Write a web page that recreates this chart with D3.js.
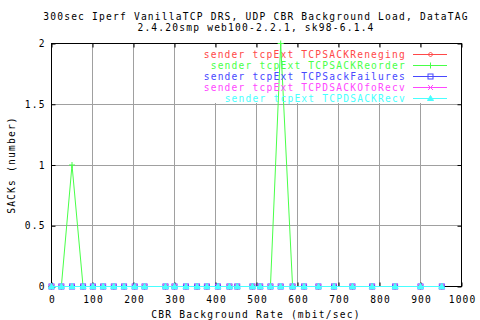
<!DOCTYPE html>
<html>
<head>
<meta charset="utf-8">
<script src="https://cdn.jsdelivr.net/npm/d3@7"></script>
<style>
    body { margin: 0; background: #fff; }
    svg text { font-family: "DejaVu Sans Mono", monospace; font-size: 9.6px; letter-spacing: 1.2px; }
</style>
</head>
<body>
<div id="chart"></div>
<script>
"use strict";

// CBR background rates (mbit/sec) at which the runs were taken
const rates = [0, 24, 50, 77, 101, 126, 152, 177, 203, 227, 278, 300, 328, 355, 379,
    406, 434, 453, 490, 509, 534, 559, 588, 616, 651, 689, 734, 782, 838, 900, 952];

const seriesNames = [
    "sender tcpExt TCPSACKReneging",
    "sender tcpExt TCPSACKReorder",
    "sender tcpExt TCPSackFailures",
    "sender tcpExt TCPDSACKOfoRecv",
    "sender tcpExt TCPDSACKRecv"
];
const seriesColors = ["#ff4848", "#48ff48", "#4848ff", "#ff48ff", "#48ffff"];
const seriesMarkers = ["diamond", "plus", "square", "cross", "triangle"];

const zeros = rates.map(() => 0);
const reneging = zeros.slice();
const reorder = [0, 0, 1, 0, 0, 0, 0, 0, 0, 0, 0, 0, 0, 0, 0,
    0, 0, 0, 0, 0, 0, 2, 0, 0, 0, 0, 0, 0, 0, 0, 0];
const sackFailures = zeros.slice();
const dsackOfo = zeros.slice();
const dsackRecv = zeros.slice();
const seriesValues = [reneging, reorder, sackFailures, dsackOfo, dsackRecv];

const xTicks = [0, 100, 200, 300, 400, 500, 600, 700, 800, 900, 1000];
const yTicks = [0, 0.5, 1, 1.5, 2];

const titleLines = ["300sec Iperf VanillaTCP DRS, UDP CBR Background Load, DataTAG",
    "2.4.20smp web100-2.2.1, sk98-6.1.4"];
const xTitle = "CBR Background Rate (mbit/sec)";
const yTitle = "SACKs (number)";

const W = 480, H = 320;
const plotL = 51, plotR = 461, plotT = 43, plotB = 286;

const svg = d3.select("#chart").append("svg")
    .attr("width", W).attr("height", H);

const x = d3.scaleLinear().domain([0, 1000]).range([plotL, plotR]);
const y = d3.scaleLinear().domain([0, 2]).range([plotB, plotT]);

// grid
const grid = svg.append("g").attr("stroke", "#a0a0a0").attr("stroke-width", 1);
xTicks.slice(1, -1).forEach(t => {
    grid.append("line")
        .attr("x1", Math.round(x(t)) + 0.5).attr("x2", Math.round(x(t)) + 0.5)
        .attr("y1", plotT).attr("y2", plotB);
});
yTicks.slice(1, -1).forEach(t => {
    grid.append("line")
        .attr("x1", plotL).attr("x2", plotR)
        .attr("y1", Math.round(y(t)) + 0.5).attr("y2", Math.round(y(t)) + 0.5);
});

// key area hides the grid behind it
svg.append("rect")
    .attr("x", 196).attr("y", 47).attr("width", plotR - 197).attr("height", 56)
    .attr("fill", "#fff");

// axes: ticks on all four sides, pointing inward
const axB = svg.append("g").attr("transform", `translate(0.5,${plotB + 0.5})`)
    .call(d3.axisBottom(x).tickValues(xTicks).tickSizeInner(-4).tickSizeOuter(0)
        .tickFormat(d3.format("d")));
const axT = svg.append("g").attr("transform", `translate(0.5,${plotT + 0.5})`)
    .call(d3.axisTop(x).tickValues(xTicks).tickSizeInner(-4).tickSizeOuter(0).tickFormat(""));
const axL = svg.append("g").attr("transform", `translate(${plotL + 0.5},0.5)`)
    .call(d3.axisLeft(y).tickValues(yTicks).tickSizeInner(-4).tickSizeOuter(0)
        .tickFormat(d3.format("")));
const axR = svg.append("g").attr("transform", `translate(${plotR + 0.5},0.5)`)
    .call(d3.axisRight(y).tickValues(yTicks).tickSizeInner(-4).tickSizeOuter(0).tickFormat(""));
[axB, axT, axL, axR].forEach(a => {
    // let the page css pick the font
    a.attr("font-family", null).attr("font-size", null);
    a.select(".domain").remove();
    a.selectAll("line").attr("stroke", "#000");
    a.selectAll("text").attr("fill", "#000");
});
axB.selectAll("text").attr("dy", null).attr("y", 16).attr("dx", "0.6px");
axL.selectAll("text").attr("x", -7).attr("dx", "1.2px");

svg.append("rect")
    .attr("x", plotL + 0.5).attr("y", plotT + 0.5)
    .attr("width", plotR - plotL).attr("height", plotB - plotT)
    .attr("fill", "none").attr("stroke", "#000");

// point markers, gnuplot style
function marker(g, kind, cx, cy, color) {
    const s = 2.5;
    if (kind === "diamond") {
        g.append("path").attr("d", `M${cx},${cy - s}L${cx + s},${cy}L${cx},${cy + s}L${cx - s},${cy}Z`)
            .attr("fill", "none").attr("stroke", color);
    } else if (kind === "plus") {
        g.append("path").attr("d", `M${cx - 3},${cy}H${cx + 3}M${cx},${cy - 3}V${cy + 3}`)
            .attr("stroke", color);
    } else if (kind === "square") {
        g.append("rect").attr("x", cx - s).attr("y", cy - s).attr("width", 2 * s).attr("height", 2 * s)
            .attr("fill", "none").attr("stroke", color);
    } else if (kind === "cross") {
        g.append("path").attr("d", `M${cx - s},${cy - s}L${cx + s},${cy + s}M${cx - s},${cy + s}L${cx + s},${cy - s}`)
            .attr("stroke", color);
    } else {
        g.append("path").attr("d", `M${cx},${cy - 3}L${cx + 3},${cy + 2}L${cx - 3},${cy + 2}Z`)
            .attr("fill", color).attr("stroke", color);
    }
}

const line = d3.line().x(d => x(d[0]) + 0.5).y(d => y(d[1]) + 0.5);

seriesValues.forEach((vals, i) => {
    const pts = rates.map((r, j) => [r, vals[j]]);
    const g = svg.append("g");
    g.append("path").datum(pts)
        .attr("d", line)
        .attr("fill", "none").attr("stroke", seriesColors[i]).attr("stroke-width", 1);
    pts.forEach(p => marker(g, seriesMarkers[i], x(p[0]) + 0.5, y(p[1]) + 0.5, seriesColors[i]));

    // key entry
    const ky = 54 + i * 11;
    svg.append("text")
        .attr("x", 406).attr("y", ky + 3.5)
        .attr("text-anchor", "end").attr("fill", seriesColors[i])
        .text(seriesNames[i]);
    svg.append("line")
        .attr("x1", 413).attr("x2", 447).attr("y1", ky + 0.5).attr("y2", ky + 0.5)
        .attr("stroke", seriesColors[i]);
    marker(svg, seriesMarkers[i], 430.5, ky + 0.5, seriesColors[i]);
});

// titles
titleLines.forEach((t, i) => {
    svg.append("text")
        .attr("x", 256).attr("y", 19.5 + i * 11)
        .attr("text-anchor", "middle").attr("fill", "#000")
        .text(t);
});
svg.append("text")
    .attr("x", 256).attr("y", 318)
    .attr("text-anchor", "middle").attr("fill", "#000")
    .text(xTitle);
svg.append("text")
    .attr("text-anchor", "middle").attr("fill", "#000")
    .attr("transform", `translate(15,165) rotate(-90)`)
    .text(yTitle);
</script>
</body>
</html>
